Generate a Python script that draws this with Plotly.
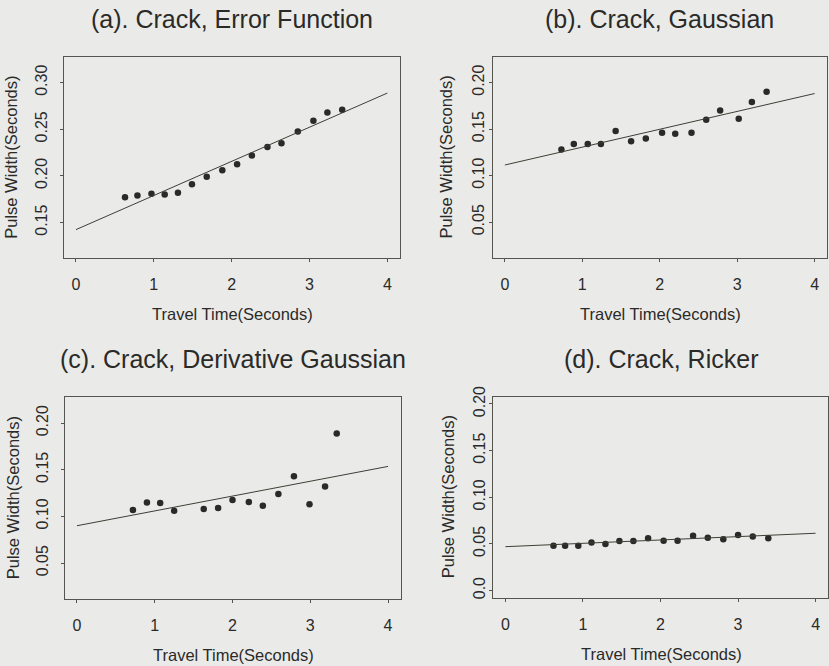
import plotly.graph_objects as go

W, H = 829, 666

# ---- data -------------------------------------------------------------
titles = ["(a). Crack, Error Function", "(b). Crack, Gaussian",
          "(c). Crack, Derivative Gaussian", "(d). Crack, Ricker"]

x_a = [0.63, 0.79, 0.97, 1.14, 1.31, 1.49, 1.68, 1.88, 2.07, 2.26, 2.46, 2.64, 2.85, 3.05, 3.23, 3.42]
y_a = [0.177, 0.179, 0.181, 0.180, 0.182, 0.191, 0.199, 0.206, 0.2125, 0.222, 0.231, 0.235, 0.2475, 0.259, 0.268, 0.271]

x_b = [0.73, 0.89, 1.07, 1.24, 1.43, 1.63, 1.82, 2.03, 2.20, 2.41, 2.60, 2.78, 3.02, 3.19, 3.38]
y_b = [0.128, 0.134, 0.134, 0.134, 0.148, 0.137, 0.140, 0.146, 0.145, 0.146, 0.160, 0.170, 0.161, 0.179, 0.190]

x_c = [0.72, 0.90, 1.07, 1.25, 1.63, 1.815, 2.00, 2.21, 2.39, 2.59, 2.79, 2.99, 3.19, 3.34]
y_c = [0.107, 0.115, 0.1145, 0.106, 0.108, 0.109, 0.1176, 0.1154, 0.1114, 0.124, 0.143, 0.113, 0.132, 0.189]

x_d = [0.62, 0.77, 0.94, 1.11, 1.29, 1.47, 1.65, 1.84, 2.04, 2.22, 2.42, 2.61, 2.81, 3.00, 3.19, 3.39]
y_d = [0.048, 0.048, 0.048, 0.0514, 0.050, 0.053, 0.053, 0.056, 0.0535, 0.0535, 0.0586, 0.0567, 0.055, 0.0596, 0.0578, 0.056]

# least-squares fit lines: (intercept, slope)
fits = [(0.1424, 0.0366), (0.1114, 0.0192), (0.0900, 0.0159), (0.0470, 0.0036)]

x_ticks = [0, 1, 2, 3, 4]
y_ticks = [[0.15, 0.20, 0.25, 0.30],
           [0.05, 0.10, 0.15, 0.20],
           [0.05, 0.10, 0.15, 0.20],
           [0.0, 0.05, 0.10, 0.15, 0.20]]
y_ticktext = [["0.15", "0.20", "0.25", "0.30"],
              ["0.05", "0.10", "0.15", "0.20"],
              ["0.05", "0.10", "0.15", "0.20"],
              ["0.0", "0.05", "0.10", "0.15", "0.20"]]
y_ranges = [[0.112, 0.328], [0.012, 0.228], [0.012, 0.228], [-0.008, 0.208]]
x_range = [-0.16, 4.16]

series = [(x_a, y_a), (x_b, y_b), (x_c, y_c), (x_d, y_d)]

# ---- layout geometry (pixels) -----------------------------------------
boxes = [  # left, right, top, bottom
    (63.5, 399.8, 56.5, 258.0),
    (492.5, 827.0, 56.5, 257.5),
    (64.5, 400.5, 397.0, 598.5),
    (493.0, 828.0, 396.5, 598.0),
]
ylab_standoff = [6, -2, 6, -2]
ytitle_offset = [52, 47, 52, 45]

INK = "#2a2a28"
FRAME = "#55554f"
FONT = "Liberation Sans, Arial, Helvetica, sans-serif"

fig = go.Figure()
layout = dict(
    width=W, height=H,
    margin=dict(l=0, r=0, t=0, b=0, pad=0, autoexpand=False),
    paper_bgcolor="#eaebe8",
    plot_bgcolor="rgba(0,0,0,0)",
    showlegend=False,
    font=dict(family=FONT, size=16, color=INK),
    annotations=[],
)

for i, ((xs, ys), (b0, b1), box) in enumerate(zip(series, fits, boxes)):
    n = "" if i == 0 else str(i + 1)
    xa, ya = "x" + n, "y" + n
    l, r, t, btm = box

    fig.add_trace(go.Scatter(
        x=xs, y=ys, mode="markers", xaxis=xa, yaxis=ya,
        marker=dict(size=6.5, color=INK), hoverinfo="skip"))
    fx = [x_ticks[0], x_ticks[-1]]
    fig.add_trace(go.Scatter(
        x=fx, y=[b0 + b1 * v for v in fx], mode="lines", xaxis=xa, yaxis=ya,
        line=dict(color="#3e3e36", width=1), hoverinfo="skip"))

    layout["xaxis" + n] = dict(
        domain=[l / W, r / W], range=x_range, anchor=ya, automargin=False,
        showgrid=False, zeroline=False, showline=True, mirror=True,
        linecolor=FRAME, linewidth=1,
        ticks="outside", ticklen=3, tickcolor=FRAME, tickwidth=1,
        tickvals=x_ticks, ticktext=[str(v) for v in x_ticks],
        ticklabelstandoff=9, tickfont=dict(size=16, color=INK))
    layout["yaxis" + n] = dict(
        domain=[1 - btm / H, 1 - t / H], range=y_ranges[i], anchor=xa, automargin=False,
        showgrid=False, zeroline=False, showline=True, mirror=True,
        linecolor=FRAME, linewidth=1,
        ticks="outside", ticklen=3, tickcolor=FRAME, tickwidth=1,
        tickvals=y_ticks[i], ticktext=y_ticktext[i], tickangle=-90,
        ticklabelstandoff=ylab_standoff[i], tickfont=dict(size=16, color=INK))

    cx = (l + r) / 2
    # panel title
    layout["annotations"].append(dict(
        text=titles[i], xref="paper", yref="paper",
        x=cx / W, y=1 - (t - 38) / H, xanchor="center", yanchor="middle",
        showarrow=False, font=dict(size=25, color=INK)))
    # x-axis title
    layout["annotations"].append(dict(
        text="Travel Time(Seconds)", xref="paper", yref="paper",
        x=(cx + 1) / W, y=1 - (btm + 56) / H, xanchor="center", yanchor="middle",
        showarrow=False, font=dict(size=16.5, color=INK)))
    # y-axis title
    layout["annotations"].append(dict(
        text="Pulse Width(Seconds)", xref="paper", yref="paper",
        x=(l - ytitle_offset[i]) / W, y=1 - ((t + btm) / 2) / H,
        xanchor="center", yanchor="middle",
        textangle=-90, showarrow=False, font=dict(size=16.5, color=INK)))

fig.update_layout(**layout)
fig.write_html("out.html")
